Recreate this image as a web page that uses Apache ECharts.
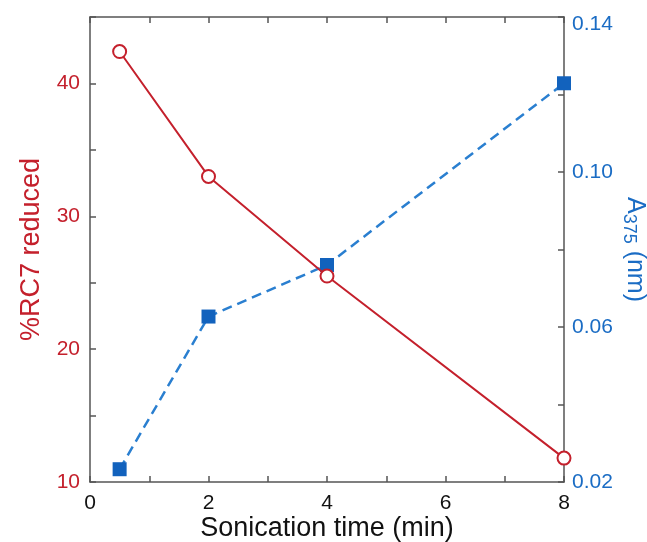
<!DOCTYPE html>
<html lang="en">
<head>
<meta charset="utf-8">
<title>Sonication time</title>
<script src="https://cdn.jsdelivr.net/npm/echarts@6/dist/echarts.min.js"></script>
<style>
  html, body { margin: 0; padding: 0; background: #fff; }
  #main { width: 647px; height: 542px; }
</style>
</head>
<body>
<div id="main"></div>
<script type="text/javascript">
// data
var times = [0.5, 2, 4, 8];
var reduced = [42.4, 33.0, 25.5, 11.8];      // %RC7 reduced (left axis)
var absorb = [0.0233, 0.0627, 0.076, 0.1229]; // A375 (right axis)

var RED = '#c4202c';
var BLUE = '#1a6cc4';
var AXIS = '#555';
var FONT = 'Liberation Sans, Arial, sans-serif';

function pairs(xs, ys) {
    var res = [];
    for (var i = 0; i < xs.length; i++) res.push([xs[i], ys[i]]);
    return res;
}

var myChart = echarts.init(document.getElementById('main'));

var tick = { inside: true, length: 6, lineStyle: { color: AXIS, width: 1.5 } };
var line = { show: true, onZero: false, lineStyle: { color: AXIS, width: 1.5 } };

var option = {
    animation: false,
    textStyle: { fontFamily: FONT },
    grid: { left: 90, right: 83, top: 17, bottom: 60, containLabel: false, outerBoundsMode: 'none' },
    xAxis: [
        {
            type: 'value', min: 0, max: 8, interval: 1,
            name: 'Sonication time (min)', nameLocation: 'middle', nameGap: 33, nameMoveOverlap: false,
            nameTextStyle: { color: '#111', fontSize: 27, fontFamily: FONT },
            axisLine: line,
            axisTick: tick,
            axisLabel: {
                color: '#111', fontSize: 21, margin: 11, fontFamily: FONT,
                formatter: function (v) { return v % 2 === 0 ? String(v) : ''; }
            },
            splitLine: { show: false }
        },
        {
            type: 'value', position: 'top', min: 0, max: 8, interval: 1,
            axisLine: line,
            axisTick: tick,
            axisLabel: { show: false },
            splitLine: { show: false }
        }
    ],
    yAxis: [
        {
            type: 'value', min: 10, max: 45, interval: 5, position: 'left',
            name: '%RC7 reduced', nameLocation: 'middle', nameGap: 45, nameMoveOverlap: false,
            nameTextStyle: { color: RED, fontSize: 27, fontFamily: FONT },
            axisLine: line,
            axisTick: tick,
            axisLabel: {
                color: RED, fontSize: 21, margin: 10, fontFamily: FONT,
                formatter: function (v) { return v % 10 === 0 ? String(v) : ''; }
            },
            splitLine: { show: false }
        },
        {
            type: 'value', min: 0.02, max: 0.14, interval: 0.02, position: 'right',
            name: 'A{sub|375} (nm)', nameLocation: 'middle', nameGap: 56, nameRotate: -90,
            nameMoveOverlap: false,
            nameTextStyle: {
                color: BLUE, fontSize: 25, fontFamily: FONT,
                rich: { sub: { color: BLUE, fontSize: 18, fontFamily: FONT, padding: [12, 0, 0, 0] } }
            },
            axisLine: line,
            axisTick: tick,
            axisLabel: {
                color: BLUE, fontSize: 21, margin: 8, fontFamily: FONT,
                formatter: function (v) {
                    var k = Math.round((v - 0.02) / 0.02);
                    if (k % 2 !== 0) return '';
                    return k === 6 ? '{top|' + v.toFixed(2) + '}' : v.toFixed(2);
                },
                rich: { top: { color: BLUE, fontSize: 21, fontFamily: FONT, padding: [14, 0, 0, 0] } }
            },
            splitLine: { show: false }
        }
    ],
    series: [
        {
            name: 'A375', type: 'line', yAxisIndex: 1, z: 2,
            data: pairs(times, absorb),
            symbol: 'rect', symbolSize: 14,
            itemStyle: { color: '#1262bd' },
            lineStyle: { color: '#2a7fd0', width: 2.5, type: [10, 6] }
        },
        {
            name: '%RC7', type: 'line', yAxisIndex: 0, z: 3,
            data: pairs(times, reduced),
            symbol: 'circle', symbolSize: 13,
            itemStyle: { color: '#fff', borderColor: RED, borderWidth: 2 },
            lineStyle: { color: RED, width: 2 }
        }
    ]
};

myChart.setOption(option);
</script>
</body>
</html>
